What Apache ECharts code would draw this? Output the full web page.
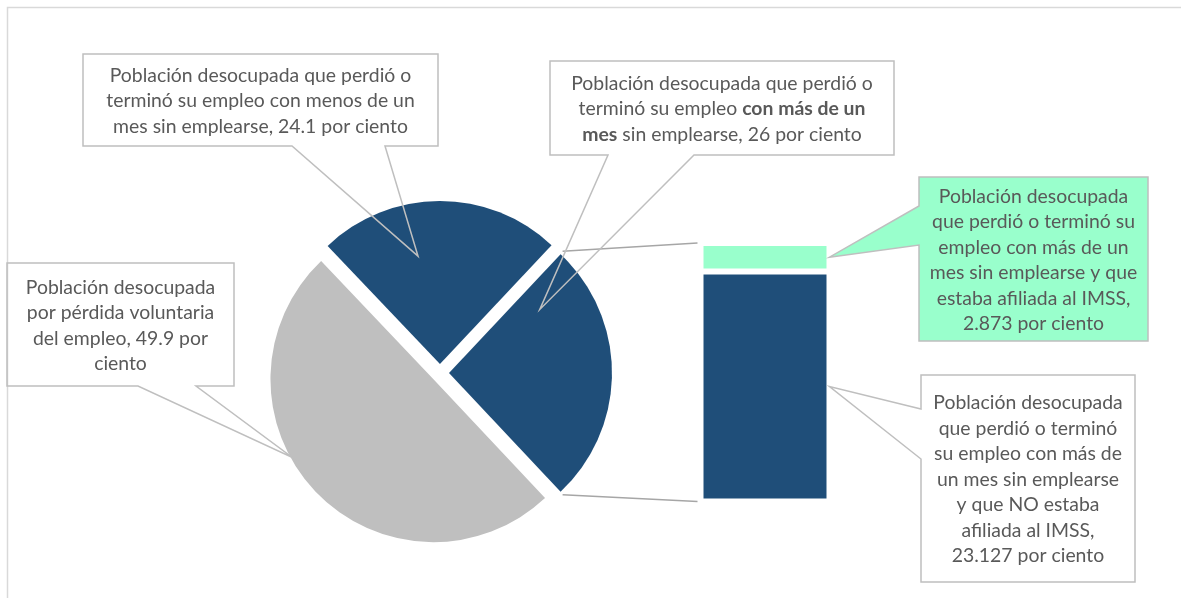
<!DOCTYPE html>
<html>
<head>
<meta charset="utf-8">
<script src="https://cdn.jsdelivr.net/npm/echarts@6/dist/echarts.min.js"></script>
<style>
  html, body { margin: 0; padding: 0; background: #fff; }
  #chart { width: 1181px; height: 598px; }
</style>
</head>
<body>
<div id="chart"></div>
<script>
// Pie: unemployed population by reason for being out of work (per cent)
const pieNames = [
  'Con más de un mes sin emplearse',
  'Con menos de un mes sin emplearse',
  'Pérdida voluntaria del empleo'
];
const pieValues = [26, 24.1, 49.9];

// Bar: breakdown of the "more than a month" slice by IMSS affiliation
const barNames = ['NO afiliada al IMSS', 'Afiliada al IMSS'];
const barValues = [23.127, 2.873];

const NAVY = '#1F4E79';
const GREY = '#BFBFBF';
const MINT = '#99FFCC';
const LINE = '#BFBFBF';
const TEXT = '#595959';
const FONT = 'Lato, "Noto Sans", sans-serif';
const FONT_SIZE = 19.4;
const LINE_H = 25.5;

// Pie geometry
const PIE_C = [440, 373];
const PIE_R = 163;
const PIE_OFF = 9;
const total = pieValues.reduce((a, b) => a + b, 0);
// the split-out slice is centred on 3 o'clock, slices run counter-clockwise
const startAngle = -(pieValues[0] / total * 360) / 2;

// Bar geometry
const BAR = { left: 700.5, top: 242.9, width: 129, height: 258.6 };
const barTotal = barValues.reduce((a, b) => a + b, 0);

const chart = echarts.init(document.getElementById('chart'), null, { renderer: 'canvas' });

const pieColors = [NAVY, NAVY, GREY];
const barColors = [NAVY, MINT];

chart.setOption({
  animation: false,
  backgroundColor: '#fff',
  grid: { left: BAR.left, top: BAR.top, width: BAR.width, height: BAR.height, containLabel: false },
  xAxis: { type: 'category', data: ['IMSS'], show: false },
  yAxis: { type: 'value', min: 0, max: barTotal, show: false },
  series: [
    {
      type: 'pie',
      center: PIE_C,
      radius: PIE_R,
      startAngle: startAngle,
      clockwise: false,
      selectedMode: 'multiple',
      selectedOffset: PIE_OFF,
      label: { show: false },
      labelLine: { show: false },
      emphasis: { disabled: true },
      itemStyle: { borderWidth: 0 },
      data: pieValues.map((v, i) => ({
        name: pieNames[i],
        value: v,
        selected: true,
        itemStyle: { color: pieColors[i] },
        select: { itemStyle: { color: pieColors[i], borderWidth: 0 } }
      }))
    },
    ...barValues.map((v, i) => ({
      type: 'bar',
      name: barNames[i],
      stack: 'imss',
      barWidth: '100%',
      data: [v],
      itemStyle: { color: barColors[i], borderColor: '#fff', borderWidth: 3 },
      emphasis: { disabled: true }
    }))
  ]
});

// ---- annotations: callouts and connector lines ----
const rad = d => d * Math.PI / 180;
function polar(c, r, deg) { return [c[0] + r * Math.cos(rad(deg)), c[1] - r * Math.sin(rad(deg))]; }

// slice spans (degrees, counter-clockwise from startAngle)
const spans = [];
let acc = startAngle;
pieValues.forEach(v => { const a = v / total * 360; spans.push([acc, acc + a]); acc += a; });
const vertex = i => polar(PIE_C, PIE_OFF, (spans[i][0] + spans[i][1]) / 2);

const barRight = BAR.left + BAR.width;
const yPix = v => chart.convertToPixel({ gridIndex: 0 }, [0, v])[1];
const barMid = i => {
  const lo = barValues.slice(0, i).reduce((a, b) => a + b, 0);
  return (yPix(lo) + yPix(lo + barValues[i])) / 2;
};

const fmt = v => String(v);

const callouts = [
  { // slice: less than a month
    box: { x: 83, y: 54, w: 355, h: 92 }, side: 'bottom', base: [292, 385],
    tip: polar(vertex(1), PIE_R * 0.675, 101.5),
    text: 'Población desocupada que perdió o\nterminó su empleo con menos de un\nmes sin emplearse, ' + fmt(pieValues[1]) + ' por ciento'
  },
  { // slice: more than a month
    box: { x: 550, y: 61, w: 344, h: 94 }, side: 'bottom', base: [608, 694],
    tip: polar(vertex(0), PIE_R * 0.68, 35),
    text: 'Población desocupada que perdió o\nterminó su empleo {b|con más de un}\n{b|mes} sin emplearse, ' + fmt(pieValues[0]) + ' por ciento'
  },
  { // slice: voluntary
    box: { x: 7, y: 263, w: 227, h: 123 }, side: 'bottom', base: [138, 196],
    tip: polar(vertex(2), PIE_R * 0.99, 209),
    text: 'Población desocupada\npor pérdida voluntaria\ndel empleo, ' + fmt(pieValues[2]) + ' por\nciento'
  },
  { // bar: affiliated
    box: { x: 919, y: 177, w: 229, h: 164 }, side: 'left', base: [206, 245],
    tip: [barRight, barMid(1)], fill: MINT,
    text: 'Población desocupada\nque perdió o terminó su\nempleo con más de un\nmes sin emplearse y que\nestaba afiliada al IMSS,\n' + fmt(barValues[1]) + ' por ciento'
  },
  { // bar: not affiliated
    box: { x: 921, y: 375, w: 214, h: 207 }, side: 'left', base: [409, 459],
    tip: [barRight, barMid(0)],
    text: 'Población desocupada\nque perdió o terminó\nsu empleo con más de\nun mes sin emplearse\ny que NO estaba\nafiliada al IMSS,\n' + fmt(barValues[0]) + ' por ciento'
  }
];

function calloutPoints(c) {
  const { x, y, w, h } = c.box;
  if (c.side === 'bottom') {
    return [[x, y], [x + w, y], [x + w, y + h], [c.base[1], y + h], c.tip, [c.base[0], y + h], [x, y + h]];
  }
  return [[x, y], [x + w, y], [x + w, y + h], [x, y + h], [x, c.base[1]], c.tip, [x, c.base[0]]];
}

const graphics = [];

// outer frame
graphics.push({
  type: 'rect', z: 1, silent: true,
  shape: { x: 7.5, y: 7.5, width: 1300, height: 700 },
  style: { fill: 'none', stroke: '#D9D9D9', lineWidth: 1.5 }
});

// connector lines from the split slice to the bar
const upper = polar(vertex(0), PIE_R, spans[0][1]);
const lower = polar(vertex(0), PIE_R, spans[0][0]);
[[upper, [BAR.left - 3, yPix(barTotal)]], [lower, [BAR.left - 3, yPix(0)]]].forEach(([a, b]) => {
  graphics.push({
    type: 'line', z: 50, silent: true,
    shape: { x1: a[0] + 2, y1: a[1] - (a[1] < PIE_C[1] ? 3 : -3), x2: b[0], y2: b[1] },
    style: { stroke: '#A6A6A6', lineWidth: 1.5 }
  });
});

callouts.forEach(c => {
  graphics.push({
    type: 'polygon', z: 60, silent: true,
    shape: { points: calloutPoints(c) },
    style: { fill: c.fill || 'none', stroke: LINE, lineWidth: 1.5 }
  });
  graphics.push({
    type: 'text', z: 61, silent: true,
    x: c.box.x + c.box.w / 2, y: c.box.y + c.box.h / 2 + 1,
    style: {
      text: c.text,
      fill: TEXT,
      font: FONT_SIZE + 'px ' + FONT,
      align: 'center',
      verticalAlign: 'middle',
      lineHeight: LINE_H,
      rich: {
        b: { fontWeight: 'bold', fontSize: FONT_SIZE, fontFamily: FONT, fill: TEXT, lineHeight: LINE_H }
      }
    }
  });
});

chart.setOption({ graphic: { elements: graphics } });
</script>
</body>
</html>
